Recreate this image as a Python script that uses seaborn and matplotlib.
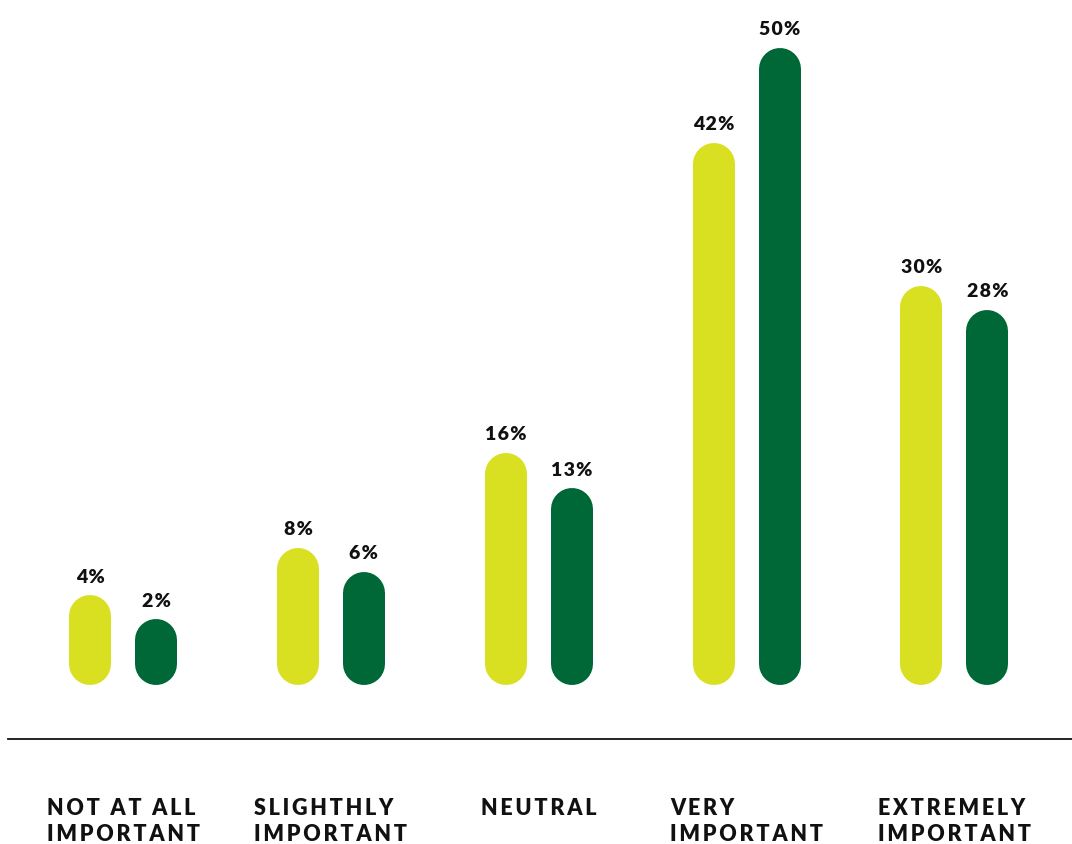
import matplotlib
matplotlib.use("Agg")
import matplotlib.pyplot as plt
import seaborn as sns
import pandas as pd

# Survey responses: share of respondents per importance level, two groups
categories = ["Not at all important", "Slightly important", "Neutral",
              "Very important", "Extremely important"]
tick_labels = ["NOT AT ALL\nIMPORTANT", "SLIGHTHLY\nIMPORTANT", "NEUTRAL",
               "VERY\nIMPORTANT", "EXTREMELY\nIMPORTANT"]
series = ["Group A", "Group B"]
group_a = [4, 8, 16, 42, 30]
group_b = [2, 6, 13, 50, 28]

YELLOW = "#D9E021"
GREEN = "#006837"

df = pd.DataFrame({
    "category": categories * 2,
    "series": [series[0]] * len(categories) + [series[1]] * len(categories),
    "share": group_a + group_b,
})

sns.set_theme(style="white")
plt.rcParams["font.family"] = ["Lato", "DejaVu Sans"]


def spaced(text, gap="\u2009"):
    """Add tracking between letters."""
    return "\n".join(gap.join(line) for line in text.split("\n"))


DPI = 100
fig = plt.figure(figsize=(10.72, 8.45), dpi=DPI)
ax = fig.add_axes([8 / 1072, 105 / 845, 1064 / 1072, 740 / 845])

sns.barplot(data=df, x="category", y="share", hue="series",
            order=categories, hue_order=series,
            palette=[YELLOW, GREEN], saturation=1, width=0.635,
            legend=False, errorbar=None, ax=ax)

# Redraw each bar as a pill: a thick line with round caps along the
# bar's centre, from zero up to its value.
bar_px = 42
for bar in ax.patches:
    h = bar.get_height()
    cx = bar.get_x() + bar.get_width() / 2
    fc = bar.get_facecolor()
    bar.set_visible(False)
    ax.plot([cx, cx], [0, h], color=fc, linewidth=bar_px * 72 / DPI,
            solid_capstyle="round", zorder=3)
    ax.annotate(spaced(f"{h:.0f}%", "\u200a"), (cx, h), xytext=(0, 25),
                textcoords="offset points", ha="center", va="baseline",
                fontsize=14, fontweight="heavy", color="#111111")

ax.set_xlim(-0.554, 4.566)
ax.set_ylim(-6.30, 55.88)

ax.set_xticks(range(len(categories)))
ax.set_xticklabels([spaced(t) for t in tick_labels], fontsize=15.5,
                   fontweight="heavy", color="#111111",
                   multialignment="left", linespacing=1.25)
ax.tick_params(axis="x", length=0, pad=42)
ax.set_yticks([])
ax.set_xlabel("")
ax.set_ylabel("")

for side in ("top", "left", "right"):
    ax.spines[side].set_visible(False)
ax.spines["bottom"].set_color("#111111")
ax.spines["bottom"].set_linewidth(1.3)

fig.savefig("out.png", dpi=DPI, facecolor="white")
